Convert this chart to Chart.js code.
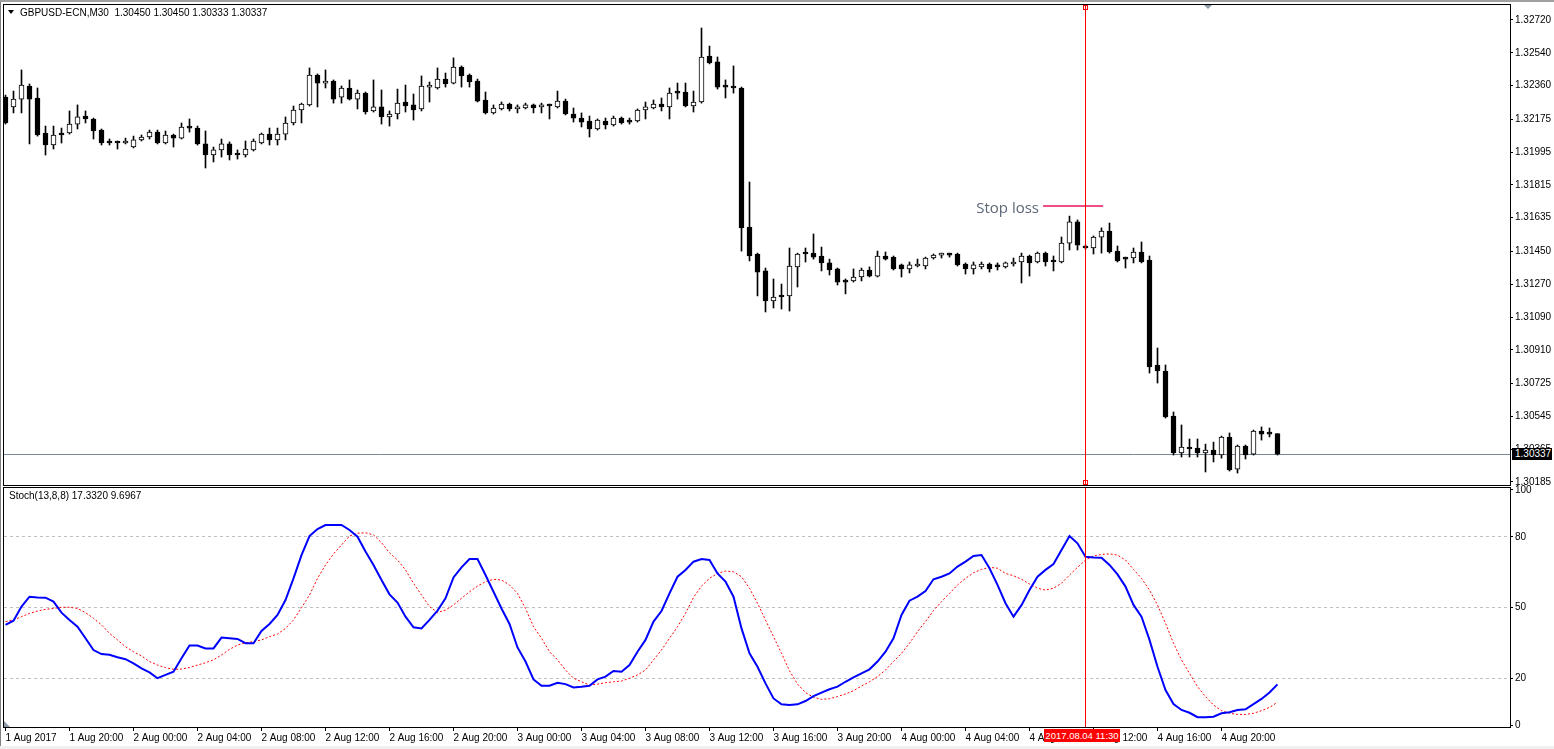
<!DOCTYPE html>
<html>
<head>
<meta charset="utf-8">
<script src="https://cdn.jsdelivr.net/npm/chart.js@4.4.0/dist/chart.umd.min.js"></script>
<style>
html, body { margin: 0; padding: 0; background: #fff; }
body { width: 1554px; height: 749px; position: relative; overflow: hidden; font-family: "Liberation Sans", Arial, sans-serif; }
canvas { position: absolute; left: 0; }
#main { top: 0; }
#stoch { top: 478px; }
#edgeL { position: absolute; left: 0; top: 0; width: 1px; height: 749px; background: #808080; }
#edgeT { position: absolute; left: 0; top: 0; width: 1554px; height: 2px; background: #a0a0a0; }
#edgeB { position: absolute; left: 0; top: 746px; width: 1554px; height: 3px; background: #f0f0f0; }
.lbl { position: absolute; font-size: 10px; line-height: 12px; color: #000; white-space: nowrap; }
#head { left: 20px; top: 7px; }
#headTri { position: absolute; left: 8px; top: 10px; width: 0; height: 0; border-left: 3px solid transparent; border-right: 3px solid transparent; border-top: 4px solid #000; }
#stochTitle { left: 9px; top: 490px; }
#stopTxt { position: absolute; right: 515px; top: 197px; font: 15px "Open Sans", sans-serif; color: #5b6775; white-space: nowrap; }
#priceBox { left: 1512px; top: 448px; width: 40px; height: 12px; background: #000; color: #fff; padding-left: 3px; box-sizing: border-box; }
#dateBox { left: 1044px; top: 729px; width: 76px; height: 13px; background: #ff0000; color: #fff; text-align: center; line-height: 13px; font-size: 9.5px; }
#shiftTri { position: absolute; left: 1204px; top: 5px; width: 0; height: 0; border-left: 4px solid transparent; border-right: 4px solid transparent; border-top: 4px solid #8c9aa8; }
#cornerTri { position: absolute; left: 4px; top: 721px; width: 0; height: 0; border-bottom: 6px solid #8c9aa8; border-right: 6px solid transparent; }
</style>
</head>
<body>
<canvas id="main" width="1554" height="487"></canvas>
<canvas id="stoch" width="1554" height="271"></canvas>
<div id="edgeL"></div>
<div id="edgeT"></div>
<div id="edgeB"></div>
<div id="headTri"></div>
<div class="lbl" id="head">GBPUSD-ECN,M30&nbsp;&nbsp;1.30450 1.30450 1.30333 1.30337</div>
<div class="lbl" id="stochTitle">Stoch(13,8,8) 17.3320 9.6967</div>
<div id="stopTxt">Stop loss</div>
<div class="lbl" id="priceBox">1.30337</div>
<div class="lbl" id="dateBox">2017.08.04 11:30</div>
<div id="shiftTri"></div>
<div id="cornerTri"></div>
<script>
// GBPUSD M30, 1 Aug 16:00 .. 4 Aug 23:30 (160 bars)
const open = [
  1.32297, 1.32243, 1.32286, 1.32358, 1.32292, 1.32100, 1.32034, 1.32100, 1.32100, 1.32149,
  1.32193, 1.32177, 1.32116, 1.32051, 1.32051, 1.32045, 1.32023, 1.32062, 1.32078, 1.32105,
  1.32045, 1.32089, 1.32072, 1.32133, 1.32127, 1.32040, 1.31979, 1.32007, 1.32040, 1.31985,
  1.31979, 1.32007, 1.32045, 1.32094, 1.32062, 1.32094, 1.32155, 1.32226, 1.32254, 1.32418,
  1.32374, 1.32385, 1.32297, 1.32347, 1.32286, 1.32319, 1.32221, 1.32243, 1.32188, 1.32204,
  1.32270, 1.32254, 1.32232, 1.32352, 1.32347, 1.32396, 1.32374, 1.32462, 1.32418, 1.32385,
  1.32281, 1.32210, 1.32232, 1.32259, 1.32232, 1.32237, 1.32254, 1.32243, 1.32254, 1.32243,
  1.32275, 1.32204, 1.32182, 1.32166, 1.32122, 1.32166, 1.32144, 1.32182, 1.32166, 1.32166,
  1.32226, 1.32237, 1.32259, 1.32243, 1.32325, 1.32325, 1.32248, 1.32270, 1.32522, 1.32490,
  1.32358, 1.32352, 1.32347, 1.31584, 1.31436, 1.31343, 1.31178, 1.31206, 1.31206, 1.31365,
  1.31441, 1.31441, 1.31425, 1.31387, 1.31354, 1.31293, 1.31288, 1.31310, 1.31348, 1.31315,
  1.31425, 1.31419, 1.31376, 1.31354, 1.31370, 1.31370, 1.31414, 1.31430, 1.31436, 1.31436,
  1.31381, 1.31354, 1.31365, 1.31381, 1.31370, 1.31365, 1.31381, 1.31392, 1.31425, 1.31392,
  1.31441, 1.31398, 1.31392, 1.31496, 1.31612, 1.31480, 1.31469, 1.31529, 1.31562, 1.31452,
  1.31414, 1.31414, 1.31447, 1.31403, 1.30827, 1.30794, 1.30547, 1.30344, 1.30377, 1.30371,
  1.30344, 1.30360, 1.30333, 1.30432, 1.30256, 1.30382, 1.30338, 1.30465, 1.30459, 1.30450
];
const high = [
  1.32308, 1.32330, 1.32446, 1.32369, 1.32347, 1.32138, 1.32138, 1.32127, 1.32221, 1.32254,
  1.32221, 1.32182, 1.32122, 1.32067, 1.32056, 1.32072, 1.32083, 1.32089, 1.32116, 1.32116,
  1.32111, 1.32094, 1.32155, 1.32177, 1.32138, 1.32111, 1.32023, 1.32067, 1.32051, 1.32007,
  1.32056, 1.32067, 1.32100, 1.32127, 1.32127, 1.32188, 1.32248, 1.32264, 1.32457, 1.32424,
  1.32446, 1.32391, 1.32358, 1.32391, 1.32336, 1.32325, 1.32391, 1.32336, 1.32221, 1.32341,
  1.32363, 1.32314, 1.32413, 1.32380, 1.32457, 1.32429, 1.32512, 1.32468, 1.32424, 1.32396,
  1.32325, 1.32254, 1.32270, 1.32264, 1.32254, 1.32264, 1.32259, 1.32264, 1.32259, 1.32330,
  1.32286, 1.32237, 1.32210, 1.32193, 1.32177, 1.32182, 1.32193, 1.32188, 1.32182, 1.32232,
  1.32270, 1.32281, 1.32292, 1.32347, 1.32374, 1.32374, 1.32330, 1.32676, 1.32577, 1.32517,
  1.32391, 1.32468, 1.32352, 1.31831, 1.31441, 1.31359, 1.31299, 1.31271, 1.31469, 1.31441,
  1.31469, 1.31546, 1.31474, 1.31408, 1.31359, 1.31299, 1.31354, 1.31359, 1.31365, 1.31452,
  1.31447, 1.31425, 1.31381, 1.31392, 1.31408, 1.31419, 1.31436, 1.31441, 1.31441, 1.31441,
  1.31387, 1.31392, 1.31392, 1.31387, 1.31387, 1.31392, 1.31414, 1.31441, 1.31430, 1.31447,
  1.31447, 1.31425, 1.31529, 1.31644, 1.31623, 1.31485, 1.31535, 1.31579, 1.31606, 1.31480,
  1.31419, 1.31469, 1.31502, 1.31425, 1.30920, 1.30827, 1.30569, 1.30498, 1.30421, 1.30421,
  1.30393, 1.30404, 1.30437, 1.30454, 1.30388, 1.30388, 1.30470, 1.30487, 1.30481, 1.30450
];
const low = [
  1.32149, 1.32210, 1.32210, 1.32040, 1.32083, 1.31979, 1.32012, 1.32045, 1.32094, 1.32122,
  1.32155, 1.32067, 1.32034, 1.32034, 1.32012, 1.32040, 1.32018, 1.32056, 1.32067, 1.32040,
  1.32040, 1.32023, 1.32067, 1.32105, 1.32034, 1.31908, 1.31941, 1.31968, 1.31952, 1.31957,
  1.31968, 1.32001, 1.32040, 1.32034, 1.32034, 1.32062, 1.32144, 1.32155, 1.32248, 1.32243,
  1.32347, 1.32264, 1.32264, 1.32281, 1.32232, 1.32204, 1.32215, 1.32149, 1.32138, 1.32177,
  1.32215, 1.32171, 1.32221, 1.32270, 1.32341, 1.32352, 1.32369, 1.32352, 1.32352, 1.32270,
  1.32204, 1.32204, 1.32226, 1.32221, 1.32210, 1.32232, 1.32210, 1.32210, 1.32177, 1.32237,
  1.32199, 1.32160, 1.32133, 1.32078, 1.32116, 1.32122, 1.32138, 1.32149, 1.32149, 1.32160,
  1.32177, 1.32232, 1.32221, 1.32177, 1.32286, 1.32243, 1.32215, 1.32264, 1.32479, 1.32341,
  1.32292, 1.32319, 1.31452, 1.31398, 1.31206, 1.31118, 1.31140, 1.31134, 1.31123, 1.31255,
  1.31392, 1.31408, 1.31343, 1.31321, 1.31266, 1.31217, 1.31282, 1.31288, 1.31310, 1.31310,
  1.31403, 1.31348, 1.31310, 1.31332, 1.31365, 1.31354, 1.31408, 1.31414, 1.31419, 1.31370,
  1.31326, 1.31326, 1.31354, 1.31337, 1.31348, 1.31359, 1.31370, 1.31277, 1.31315, 1.31387,
  1.31370, 1.31343, 1.31387, 1.31458, 1.31458, 1.31463, 1.31436, 1.31441, 1.31441, 1.31392,
  1.31359, 1.31387, 1.31387, 1.30783, 1.30728, 1.30536, 1.30333, 1.30322, 1.30322, 1.30322,
  1.30240, 1.30295, 1.30316, 1.30245, 1.30234, 1.30311, 1.30333, 1.30415, 1.30432, 1.30333
];
const close = [
  1.32155, 1.32286, 1.32363, 1.32286, 1.32089, 1.32034, 1.32089, 1.32089, 1.32149, 1.32188,
  1.32177, 1.32111, 1.32045, 1.32045, 1.32045, 1.32051, 1.32062, 1.32078, 1.32105, 1.32045,
  1.32089, 1.32072, 1.32133, 1.32127, 1.32040, 1.31979, 1.32007, 1.32040, 1.31979, 1.31979,
  1.32012, 1.32056, 1.32094, 1.32062, 1.32094, 1.32155, 1.32226, 1.32259, 1.32418, 1.32374,
  1.32385, 1.32286, 1.32347, 1.32286, 1.32319, 1.32215, 1.32243, 1.32188, 1.32204, 1.32264,
  1.32248, 1.32226, 1.32358, 1.32358, 1.32396, 1.32369, 1.32462, 1.32413, 1.32380, 1.32275,
  1.32210, 1.32237, 1.32259, 1.32232, 1.32243, 1.32254, 1.32237, 1.32254, 1.32248, 1.32275,
  1.32204, 1.32182, 1.32160, 1.32122, 1.32171, 1.32144, 1.32182, 1.32155, 1.32160, 1.32226,
  1.32243, 1.32259, 1.32243, 1.32319, 1.32319, 1.32248, 1.32270, 1.32517, 1.32484, 1.32352,
  1.32352, 1.32347, 1.31579, 1.31425, 1.31337, 1.31178, 1.31200, 1.31200, 1.31370, 1.31436,
  1.31436, 1.31419, 1.31387, 1.31348, 1.31282, 1.31282, 1.31310, 1.31348, 1.31315, 1.31425,
  1.31408, 1.31354, 1.31354, 1.31376, 1.31376, 1.31414, 1.31430, 1.31436, 1.31430, 1.31376,
  1.31354, 1.31376, 1.31381, 1.31354, 1.31365, 1.31387, 1.31392, 1.31425, 1.31387, 1.31441,
  1.31392, 1.31392, 1.31496, 1.31612, 1.31485, 1.31469, 1.31529, 1.31562, 1.31447, 1.31398,
  1.31408, 1.31447, 1.31392, 1.30816, 1.30794, 1.30542, 1.30344, 1.30377, 1.30366, 1.30344,
  1.30360, 1.30333, 1.30432, 1.30251, 1.30382, 1.30333, 1.30465, 1.30448, 1.30448, 1.30337
];

// Stochastic(13,8,8): %K main line and %D signal line
const stochK = [
  42.6, 44.4, 50.4, 54.6, 54.3, 54.2, 52.5, 47.8, 44.7, 41.8,
  36.9, 31.9, 30.2, 29.9, 28.8, 28.0, 26.2, 24.1, 22.4, 19.9,
  21.3, 22.7, 28.4, 33.8, 33.8, 32.6, 32.6, 37.2, 36.9, 36.6,
  34.8, 34.8, 40.0, 43.0, 46.8, 53.2, 62.4, 72.3, 80.4, 83.4,
  85.1, 85.1, 85.1, 83.0, 80.1, 73.8, 68.1, 61.7, 55.6, 52.1,
  46.1, 41.6, 41.1, 44.7, 48.7, 53.9, 62.8, 67.1, 70.6, 70.6,
  63.8, 56.7, 49.6, 43.0, 33.0, 27.0, 19.4, 16.7, 16.7, 18.0,
  17.4, 16.0, 16.3, 16.7, 19.4, 20.6, 23.0, 22.7, 25.5, 31.2,
  36.2, 44.0, 48.5, 56.0, 63.1, 66.0, 69.5, 70.6, 70.2, 64.5,
  61.0, 54.6, 41.1, 30.5, 24.8, 17.7, 11.3, 8.8, 8.5, 8.8,
  10.2, 12.3, 13.8, 15.2, 16.3, 18.4, 20.3, 22.0, 23.7, 27.0,
  31.2, 36.9, 46.8, 52.9, 54.6, 57.0, 62.0, 63.1, 64.5, 67.4,
  69.5, 71.9, 72.3, 66.7, 59.6, 51.8, 46.1, 51.0, 57.4, 63.1,
  66.0, 68.5, 74.5, 80.4, 77.3, 71.6, 71.3, 71.2, 68.1, 64.1,
  58.9, 51.1, 46.1, 36.2, 24.8, 14.9, 8.9, 6.4, 5.2, 3.3,
  3.3, 3.5, 5.0, 5.4, 6.4, 6.7, 8.9, 11.1, 13.8, 17.3
];
const stochD = [
  44.0, 44.7, 46.1, 47.5, 48.5, 49.2, 49.6, 50.1, 50.1, 49.6,
  47.8, 45.4, 42.6, 39.0, 36.2, 33.3, 31.2, 29.4, 27.0, 25.5,
  24.4, 23.7, 23.8, 24.5, 25.5, 26.5, 27.7, 29.8, 32.2, 34.0,
  35.0, 35.5, 36.2, 37.6, 38.7, 41.1, 44.7, 49.9, 55.3, 62.4,
  68.1, 72.8, 76.6, 80.4, 81.6, 81.8, 80.9, 77.6, 73.3, 70.2,
  66.0, 60.3, 55.3, 50.4, 47.9, 48.9, 51.1, 53.9, 56.7, 59.1,
  61.0, 62.0, 61.7, 59.6, 56.0, 49.6, 41.8, 36.9, 31.2, 27.7,
  23.4, 19.9, 18.4, 17.0, 17.4, 18.0, 18.4, 18.7, 19.9, 21.3,
  23.4, 27.7, 31.9, 36.9, 41.8, 47.5, 54.3, 59.1, 62.4, 64.5,
  65.5, 65.2, 63.1, 58.2, 51.8, 44.7, 37.6, 30.5, 23.1, 17.4,
  13.8, 11.8, 10.9, 11.2, 12.1, 13.2, 14.6, 16.6, 18.4, 20.6,
  23.4, 27.0, 30.5, 34.8, 39.7, 44.0, 48.7, 52.5, 56.0, 59.6,
  62.4, 64.8, 66.2, 67.1, 66.7, 64.5, 63.5, 62.0, 60.0, 58.2,
  57.4, 58.2, 60.3, 63.8, 67.1, 70.2, 71.9, 72.6, 72.8, 72.3,
  70.2, 66.2, 62.4, 57.4, 51.1, 43.3, 34.8, 27.7, 22.0, 16.3,
  12.1, 8.5, 6.1, 5.0, 4.5, 4.5, 5.0, 6.1, 7.5, 9.7
];

// one label every 8 bars (4 hours)
const timeLabels = [
  '1 Aug 2017', '1 Aug 20:00', '2 Aug 00:00', '2 Aug 04:00', '2 Aug 08:00',
  '2 Aug 12:00', '2 Aug 16:00', '2 Aug 20:00', '3 Aug 00:00', '3 Aug 04:00',
  '3 Aug 08:00', '3 Aug 12:00', '3 Aug 16:00', '3 Aug 20:00', '4 Aug 00:00',
  '4 Aug 04:00', '4 Aug 08:00', '4 Aug 12:00', '4 Aug 16:00', '4 Aug 20:00'
];
const priceTicks = [1.32720, 1.32540, 1.32360, 1.32175, 1.31995, 1.31815, 1.31635,
  1.31450, 1.31270, 1.31090, 1.30910, 1.30725, 1.30545, 1.30365, 1.30185];
const stochTicks = [100, 80, 50, 20, 0];
const stochLevels = [20, 50, 80];

const stopLoss = 1.31699;
const stopFrom = 129.7, stopTo = 137.2;   // bar index range of the stop loss segment
const cursorBar = 135;                    // 2017.08.04 11:30

// visible window: 8 px per bar, chart shifted right
const xMin = -0.1875, xMax = 188.0625;

Chart.defaults.font.family = '"Liberation Sans", Arial, sans-serif';
Chart.defaults.font.size = 10;
Chart.defaults.color = '#000';

const frame = {
  id: 'frame',
  afterDraw(chart) {
    const {ctx, chartArea: a} = chart;
    ctx.save();
    ctx.strokeStyle = '#000';
    ctx.lineWidth = 1;
    ctx.strokeRect(a.left - 0.5, a.top - 0.5, a.right - a.left + 1, a.bottom - a.top + 1);
    ctx.restore();
  }
};

const cursor = {
  id: 'cursor',
  afterDatasetsDraw(chart, args, opts) {
    const {ctx, chartArea: a, scales: {x}} = chart;
    const px = Math.floor(x.getPixelForValue(cursorBar)) + 0.5;
    ctx.save();
    ctx.strokeStyle = '#ff0000';
    ctx.lineWidth = 1;
    ctx.beginPath();
    ctx.moveTo(px, a.top);
    ctx.lineTo(px, a.bottom);
    ctx.stroke();
    if (opts.markers) {
      ctx.strokeRect(px - 2, a.top + 0.5, 4, 4);
      ctx.strokeRect(px - 2, a.bottom - 4.5, 4, 4);
    }
    ctx.restore();
  }
};

const priceLine = {
  id: 'priceLine',
  beforeDatasetsDraw(chart) {
    const {ctx, chartArea: a, scales: {y}} = chart;
    const py = Math.round(y.getPixelForValue(close[close.length - 1])) + 0.5;
    ctx.save();
    ctx.strokeStyle = '#778899';
    ctx.lineWidth = 1;
    ctx.beginPath();
    ctx.moveTo(a.left, py);
    ctx.lineTo(a.right, py);
    ctx.stroke();
    ctx.restore();
  }
};

const bodies = open.map((o, i) => ({x: i, y: [o, close[i]]}));
const wicks = high.map((h, i) => ({x: i, y: [low[i], h]}));
const bodyFill = open.map((o, i) => close[i] >= o ? '#ffffff' : '#000000');

new Chart(document.getElementById('main'), {
  type: 'bar',
  data: {
    datasets: [
      {
        type: 'line',
        data: [{x: stopFrom, y: stopLoss}, {x: stopTo, y: stopLoss}],
        borderColor: '#f04e82',
        borderWidth: 2,
        pointRadius: 0,
        order: 0
      },
      {
        data: bodies,
        backgroundColor: bodyFill,
        borderColor: '#000',
        borderWidth: 1,
        borderSkipped: false,
        barThickness: 5,
        minBarLength: 2,
        grouped: false,
        order: 1
      },
      {
        data: wicks,
        backgroundColor: '#000',
        borderWidth: 0,
        barThickness: 1,
        grouped: false,
        order: 2
      }
    ]
  },
  options: {
    responsive: false,
    animation: false,
    events: [],
    layout: {padding: {left: 4, top: 5, right: 0, bottom: 2}},
    plugins: {legend: {display: false}, tooltip: {enabled: false}, cursor: {markers: true}},
    scales: {
      x: {type: 'linear', min: xMin, max: xMax, offset: false, display: false, grid: {offset: false}},
      y: {
        position: 'right',
        min: 1.301685,
        max: 1.328023,
        afterBuildTicks: s => { s.ticks = priceTicks.map(v => ({value: v})); },
        afterFit: s => { s.width = 44; s.paddingTop = 0; s.paddingBottom = 0; },
        grid: {drawOnChartArea: false, tickLength: 3, tickColor: '#000'},
        border: {display: false},
        ticks: {padding: 2, autoSkip: false, callback: v => v.toFixed(5)}
      }
    }
  },
  plugins: [priceLine, cursor, frame]
});

new Chart(document.getElementById('stoch'), {
  type: 'line',
  data: {
    datasets: [
      {
        data: stochK.map((v, i) => ({x: i, y: v})),
        borderColor: '#0000ff',
        borderWidth: 2,
        pointRadius: 0,
        tension: 0
      },
      {
        data: stochD.map((v, i) => ({x: i, y: v})),
        borderColor: '#ff0000',
        borderWidth: 1,
        borderDash: [2, 2],
        pointRadius: 0,
        tension: 0
      }
    ]
  },
  options: {
    responsive: false,
    animation: false,
    events: [],
    layout: {padding: {left: 4, top: 10, right: 0, bottom: 0}},
    plugins: {legend: {display: false}, tooltip: {enabled: false}, cursor: {markers: false}},
    scales: {
      x: {
        type: 'linear',
        min: xMin,
        max: xMax,
        afterBuildTicks: s => { s.ticks = timeLabels.map((t, k) => ({value: k * 8})); },
        afterFit: s => { s.height = 22; s.paddingLeft = 0; s.paddingRight = 0; },
        grid: {drawOnChartArea: false, tickLength: 4, tickColor: '#000'},
        border: {display: false},
        ticks: {align: 'start', maxRotation: 0, autoSkip: false, padding: 1,
          callback: v => timeLabels[Math.round(v / 8)]}
      },
      y: {
        position: 'right',
        min: -0.85,
        max: 100.85,
        afterBuildTicks: s => { s.ticks = stochTicks.map(v => ({value: v})); },
        afterFit: s => { s.width = 44; s.paddingTop = 0; s.paddingBottom = 0; },
        grid: {
          color: c => (c.tick && stochLevels.includes(c.tick.value)) ? '#c0c0c0' : 'rgba(0,0,0,0)',
          tickLength: 3,
          tickColor: '#000'
        },
        border: {display: false, dash: [3, 3]},
        ticks: {padding: 2, autoSkip: false}
      }
    }
  },
  plugins: [cursor, frame]
});
</script>
</body>
</html>
